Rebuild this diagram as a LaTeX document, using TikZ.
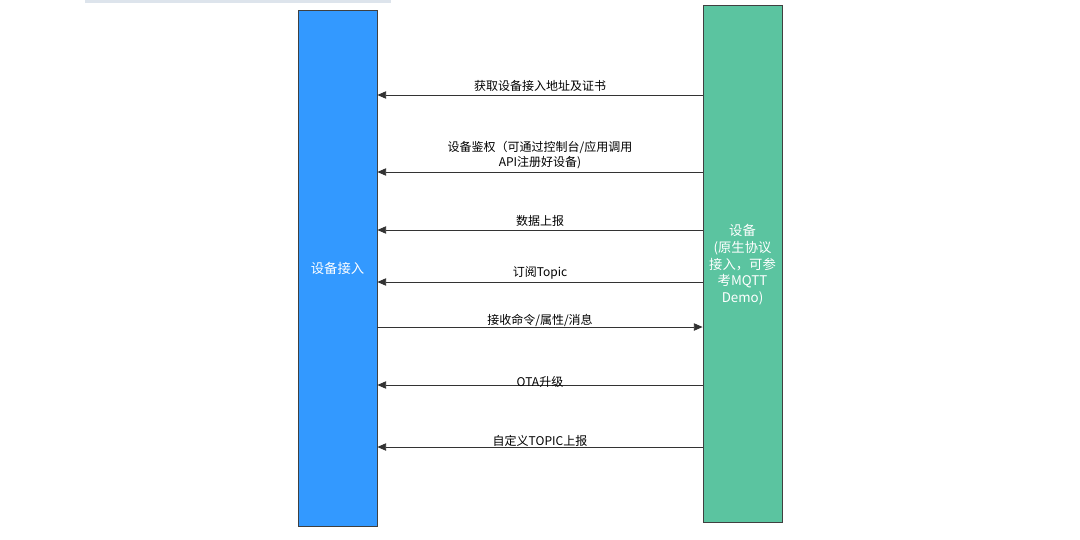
\documentclass[tikz,border=0pt]{standalone}
\usepackage{fontspec}
\setmainfont{Noto Sans CJK SC}
\usetikzlibrary{arrows.meta}
\definecolor{accblue}{HTML}{3399FF}
\definecolor{devgreen}{HTML}{5BC4A0}
\definecolor{bargrey}{HTML}{DDE4EC}

\begin{document}
\begin{tikzpicture}
  [x=0.75pt,y=-0.75pt,font=\fontsize{9}{11}\selectfont]
      \tikzstyle{box_style} = [draw=black!75, line width=0.6pt, minimum width=59.25pt, text=white, font=\fontsize{10}{12.5}\selectfont, align=center]
      \tikzstyle{msg_style} = [draw=black!80, line width=0.6pt, -{Triangle[length=6.5pt,width=5.5pt]}]
  \useasboundingbox (0,0) rectangle (1080,539);
  \fill[bargrey] (85,0) rectangle (391,3);

  \node[box_style, fill=accblue, minimum height=387pt] (acc) at (337.5,268) {设备接入};
  \node[box_style, fill=devgreen, minimum height=387.75pt] (dev) at (742.5,263.5) {};
  \node[box_style, draw=none, minimum height=0pt] (devtext) at (742.5,265) {设备\\ (原生协议\\接入，可参\\考MQTT\\Demo)};

  \draw[msg_style] (dev.west |- 0,95) -- node[above, inner sep=2pt] {获取设备接入地址及证书} (acc.east |- 0,95);
  \draw[msg_style] (dev.west |- 0,172) -- node[above, inner sep=2pt, align=center] {设备鉴权（可通过控制台/应用调用\\API注册好设备)} (acc.east |- 0,172);
  \draw[msg_style] (dev.west |- 0,230) -- node[above, inner sep=2pt] {数据上报} (acc.east |- 0,230);
  \draw[msg_style] (dev.west |- 0,282) -- node[above, inner sep=2pt] {订阅Topic} (acc.east |- 0,282);
  \draw[msg_style] (acc.east |- 0,327) -- node[above, inner sep=0pt] {接收命令/属性/消息} (dev.west |- 0,327);
  \draw[msg_style] (dev.west |- 0,385) -- node[above, inner sep=0pt, yshift=-2pt] {OTA升级} (acc.east |- 0,385);
  \draw[msg_style] (dev.west |- 0,447) -- node[above, inner sep=0pt] {自定义TOPIC上报} (acc.east |- 0,447);
\end{tikzpicture}
\end{document}
